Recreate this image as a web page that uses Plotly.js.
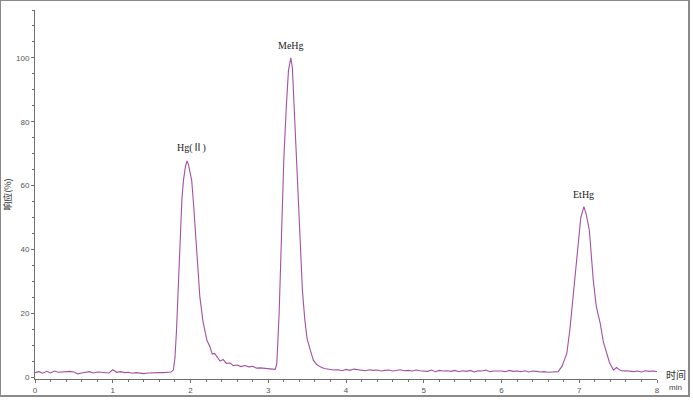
<!DOCTYPE html>
<html>
<head>
<meta charset="utf-8">
<script src="https://cdn.plot.ly/plotly-3.0.1.min.js"></script>
<style>
  html, body { margin: 0; padding: 0; background: #fff; }
  #wrap { position: relative; width: 693px; height: 400px; }
  #chart { width: 693px; height: 400px; }
  #frame { position: absolute; left: 0px; top: 0px; width: 687px; height: 394px;
           border: 1px solid #8a8a8a; border-right-width: 2px; border-bottom-width: 2px; pointer-events: none; }
</style>
</head>
<body>
<div id="wrap">
  <div id="chart"></div>
  <div id="frame"></div>
</div>
<script>
// Retention time (min)
const time = [
  0, 0.05, 0.1, 0.15, 0.2, 0.25, 0.3, 0.35, 0.4, 0.45, 0.5, 0.55, 0.6, 0.65, 0.7, 0.75, 0.8, 0.85, 0.9, 0.95,
  1.0, 1.05, 1.1, 1.15, 1.2, 1.25, 1.3, 1.35, 1.4, 1.45, 1.5, 1.55, 1.6, 1.65, 1.7, 1.75,
  1.78, 1.80, 1.82, 1.84, 1.865, 1.89, 1.91, 1.935, 1.955, 1.975, 1.995, 2.015, 2.04, 2.06, 2.09, 2.12,
  2.16, 2.21, 2.25, 2.28, 2.31, 2.34, 2.38, 2.42, 2.46, 2.51, 2.55, 2.6, 2.65, 2.7, 2.75, 2.8, 2.85,
  2.9, 2.95, 3.0, 3.05, 3.09, 3.11, 3.14, 3.17, 3.20, 3.23, 3.26, 3.29, 3.31, 3.335, 3.36, 3.39, 3.41,
  3.44, 3.47, 3.5, 3.54, 3.58, 3.62, 3.67, 3.72, 3.78, 3.84, 3.9, 3.95,
  4.0, 4.05, 4.1, 4.15, 4.2, 4.25, 4.3, 4.35, 4.4, 4.45, 4.5, 4.55, 4.6, 4.65, 4.7, 4.75, 4.8, 4.85, 4.9, 4.95,
  5.0, 5.05, 5.1, 5.15, 5.2, 5.25, 5.3, 5.35, 5.4, 5.45, 5.5, 5.55, 5.6, 5.65, 5.7, 5.75, 5.8, 5.85, 5.9, 5.95,
  6.0, 6.05, 6.1, 6.15, 6.2, 6.25, 6.3, 6.35, 6.4, 6.45, 6.5, 6.55, 6.6, 6.65, 6.7, 6.73,
  6.78, 6.84, 6.88, 6.92, 6.96, 6.99, 7.02, 7.06, 7.09, 7.13, 7.18, 7.22, 7.27, 7.31, 7.35, 7.39, 7.44,
  7.48, 7.52, 7.56, 7.6, 7.65, 7.7, 7.75, 7.8, 7.85, 7.9, 7.95, 8.0
];
// Response (%)
const response = [
  1.4, 1.7, 1.2, 1.8, 1.3, 1.9, 1.5, 1.6, 1.9, 1.8, 1.6, 1.0, 1.3, 1.4, 1.7, 1.3, 1.6, 1.5, 1.4, 1.3,
  2.3, 1.5, 1.7, 1.4, 1.5, 1.2, 1.4, 1.3, 1.1, 1.3, 1.4, 1.3, 1.4, 1.4, 1.5, 1.6,
  2.2, 6.0, 14.7, 27, 46, 56, 61.7, 66, 67.7, 66.5, 64, 61.7, 54, 46, 35, 25.2,
  17.5, 11.6, 9.5, 7.2, 7.4, 6.2, 5.0, 5.5, 4.3, 4.4, 3.6, 3.8, 3.3, 3.6, 3.2, 3.4, 2.8,
  2.9, 2.7, 2.6, 2.5, 2.4, 4.3, 20, 46, 68, 83.7, 96, 100, 97, 83.7, 70, 52, 40,
  27, 18, 12, 8.5, 5.3, 4.0, 3.2, 2.7, 2.5, 2.2, 2.3, 2.0,
  2.4, 2.1, 2.5, 2.3, 2.2, 2.0, 2.3, 2.1, 2.2, 1.9, 2.1, 2.2, 1.9, 2.0, 2.3, 2.0, 2.1, 1.9, 2.2, 2.0,
  2.0, 1.8, 2.2, 1.7, 2.1, 1.9, 2.0, 1.8, 2.1, 1.7, 2.0, 1.8, 2.1, 1.6, 2.0, 1.9, 2.2, 1.7, 1.9, 2.0,
  1.9, 1.7, 2.1, 1.8, 1.9, 1.7, 2.0, 1.6, 1.9, 1.8, 1.6, 1.7, 1.5, 1.6, 1.8, 1.7,
  3.5, 7.4, 15, 25, 35, 44, 50, 53.4, 51, 46, 30.4, 22, 16.8, 11, 7.4, 4.5, 2.2,
  3.0, 2.2, 1.9, 2.0, 1.8, 1.7, 1.9, 1.6, 2.0, 1.8, 1.9, 1.7, 2.7
];
// Peak labels
const peakNames = ["Hg(<span style=\"font-family:'Noto Sans CJK SC'\">Ⅱ</span>)", "MeHg", "EtHg"];
const peakTimes = [1.955, 3.29, 7.06];
const peakHeights = [67.7, 100, 53.4];
// Axis ticks
const xTicks = [0, 1, 2, 3, 4, 5, 6, 7, 8];
const yTicks = [0, 20, 40, 60, 80, 100];

const axisColor = "#6e6e6e";
const tickFont = { family: "Liberation Sans, Arial, sans-serif", size: 8, color: "#555" };

const trace = {
  x: time, y: response, type: "scatter", mode: "lines",
  line: { color: "#a052a3", width: 1.1 },
  hoverinfo: "skip"
};

const annotations = peakNames.map((n, i) => ({
  x: peakTimes[i], y: peakHeights[i], xref: "x", yref: "y",
  text: n, showarrow: false, yanchor: "bottom", xanchor: "center",
  xshift: i === 0 ? 4 : 0, yshift: 5,
  font: { family: "Liberation Serif, Times New Roman, serif", size: 10, color: "#222" }
}));
annotations.push({
  xref: "paper", yref: "paper", x: -0.0445, y: 0.5, text: "响应(%)", textangle: -90,
  showarrow: false, xanchor: "center", yanchor: "middle",
  font: { family: "Noto Sans CJK SC, sans-serif", size: 9, color: "#333" }
});
annotations.push({
  xref: "paper", yref: "paper", x: 1.012, y: 0.012, text: "时间", showarrow: false,
  xanchor: "left", yanchor: "middle",
  font: { family: "Noto Sans CJK SC, sans-serif", size: 10, color: "#333" }
});
annotations.push({
  xref: "paper", yref: "paper", x: 1.016, y: -0.005, text: "min", showarrow: false,
  xanchor: "left", yanchor: "top",
  font: { family: "Liberation Sans, Arial, sans-serif", size: 8, color: "#444" }
});

const layout = {
  width: 693, height: 400,
  margin: { l: 35, r: 36, t: 10, b: 21 },
  paper_bgcolor: "#fff", plot_bgcolor: "#fff",
  showlegend: false,
  xaxis: {
    range: [0, 8], tickvals: xTicks, ticktext: xTicks.map(String),
    showgrid: false, zeroline: false, showline: true, linecolor: axisColor, linewidth: 1,
    ticks: "outside", ticklen: 3, tickcolor: axisColor, tickfont: tickFont,
    minor: { dtick: 0.2, tick0: 0, ticks: "outside", ticklen: 2, tickcolor: axisColor, showgrid: false }
  },
  yaxis: {
    range: [-0.6, 115], tickvals: yTicks, ticktext: yTicks.map(String),
    showgrid: false, zeroline: false, showline: true, linecolor: axisColor, linewidth: 1,
    ticks: "outside", ticklen: 3, tickcolor: axisColor, tickfont: tickFont,
    minor: { dtick: 5, tick0: 0, ticks: "outside", ticklen: 2, tickcolor: axisColor, showgrid: false }
  },
  annotations: annotations
};

Plotly.newPlot("chart", [trace], layout, { displayModeBar: false, staticPlot: true });
</script>
</body>
</html>
